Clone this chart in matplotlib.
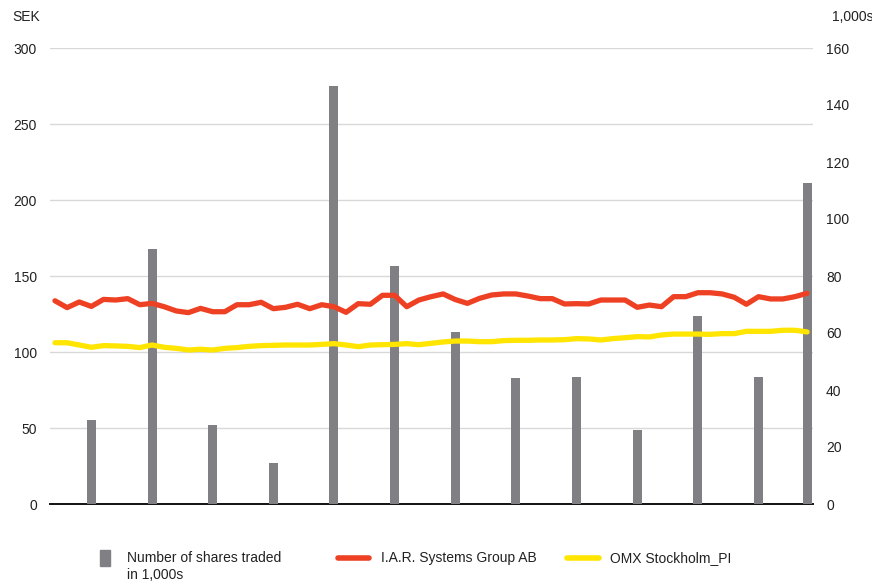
import matplotlib
matplotlib.use("Agg")
import matplotlib.pyplot as plt
from matplotlib.lines import Line2D
from matplotlib.patches import Rectangle
import numpy as np

# share price, SEK (one sample per period)
IAR = [133.7, 129.2, 132.9, 130.0, 134.6, 134.2, 135.1, 131.1, 132.0, 129.8,
       127.0, 125.9, 128.7, 126.5, 126.5, 131.1, 131.1, 132.7, 128.5, 129.4,
       131.4, 128.5, 131.1, 129.8, 126.1, 131.8, 131.4, 137.3, 137.3, 129.8,
       134.2, 136.4, 138.2, 134.5, 132.0, 135.3, 137.5, 138.2, 138.2, 136.8,
       135.1, 135.1, 131.6, 131.8, 131.6, 134.2, 134.2, 134.2, 129.4, 130.9,
       129.8, 136.4, 136.4, 139.0, 139.0, 138.2, 136.0, 131.4, 136.4, 134.9,
       134.9, 136.4, 138.6]
OMX = [106.1, 106.1, 104.6, 103.1, 104.2, 104.0, 103.7, 102.9, 104.6, 103.1,
       102.4, 101.3, 101.8, 101.3, 102.4, 102.9, 103.7, 104.2, 104.4, 104.6,
       104.6, 104.6, 105.0, 105.5, 104.6, 103.5, 104.6, 104.8, 105.0, 105.5,
       104.8, 105.7, 106.6, 107.2, 107.2, 106.8, 106.8, 107.5, 107.7, 107.7,
       107.9, 107.9, 108.1, 108.8, 108.6, 107.9, 108.8, 109.4, 110.1, 109.9,
       111.2, 111.8, 111.8, 111.8, 111.6, 112.1, 112.1, 113.6, 113.6, 113.6,
       114.3, 114.3, 113.2]

# traded volume, thousands of shares, at sample index VOL_IDX
VOL_IDX = [3, 8, 13, 18, 23, 28, 33, 38, 43, 48, 53, 58, 62]
VOLUME = [29.5, 89.5, 27.8, 14.5, 146.7, 83.5, 60.4, 44.2, 44.6, 26.0, 66.0, 44.6, 112.6]

SEK_TICKS = [0, 50, 100, 150, 200, 250, 300]
VOL_TICKS = [0, 20, 40, 60, 80, 100, 120, 140, 160]

RED = "#ee4124"
YELLOW = "#ffe500"
GREY = "#808084"
GRID = "#d9d9d9"
INK = "#222222"

plt.rcParams["font.family"] = ["Liberation Sans", "DejaVu Sans"]

W, H = 872, 581
fig = plt.figure(figsize=(W / 100, H / 100), dpi=100)
rect = [50 / W, 77 / H, 763 / W, 456 / H]

x = np.arange(len(IAR))
xlim = (-0.41, 62.49)

# grid + SEK labels on the bottom axes
ax = fig.add_axes(rect)
ax.set_xlim(*xlim)
ax.set_ylim(0, 300)
ax.set_yticks(SEK_TICKS)
ax.set_xticks([])
ax.grid(axis="y", color=GRID, lw=1)
ax.set_axisbelow(True)
ax.tick_params(axis="y", length=0, pad=9.4, labelsize=10, labelcolor=INK)
for s in ["top", "right", "left"]:
    ax.spines[s].set_visible(False)
ax.spines["bottom"].set_color("#111111")
ax.spines["bottom"].set_linewidth(1.4)
ax.spines["bottom"].set_zorder(5)

# volume bars on the right scale
axb = ax.twinx()
axb.set_xlim(*xlim)
axb.set_ylim(0, 160)
axb.set_yticks(VOL_TICKS)
axb.bar(VOL_IDX, VOLUME, width=0.74, color=GREY, zorder=2)
axb.tick_params(axis="y", length=0, pad=9.4, labelsize=10, labelcolor=INK)
for s in axb.spines.values():
    s.set_visible(False)

# price lines on top
axl = ax.twinx()
axl.set_xlim(*xlim)
axl.set_ylim(0, 300)
axl.set_yticks([])
for s in axl.spines.values():
    s.set_visible(False)
axl.plot(x, OMX, color=YELLOW, lw=3.8, solid_capstyle="round", solid_joinstyle="round")
axl.plot(x, IAR, color=RED, lw=3.8, solid_capstyle="round", solid_joinstyle="round")

fig.text(12 / W, 1 - 17 / H, "SEK", fontsize=10, va="center", color=INK)
fig.text(832 / W, 1 - 17 / H, "1,000s", fontsize=10, va="center", color=INK)

# legend row
ly = 1 - 558 / H
fig.add_artist(Rectangle((100 / W, 1 - 566 / H), 10 / W, 16 / H,
                         transform=fig.transFigure, color=GREY))
fig.text(127 / W, 1 - 551 / H, "Number of shares traded\nin 1,000s", fontsize=10,
         va="top", ha="left", linespacing=1.3, color=INK)
fig.add_artist(Line2D([338 / W, 369 / W], [ly, ly], transform=fig.transFigure,
                      color=RED, lw=4, solid_capstyle="round"))
fig.text(381 / W, ly, "I.A.R. Systems Group AB", fontsize=10, va="center", color=INK)
fig.add_artist(Line2D([567 / W, 599 / W], [ly, ly], transform=fig.transFigure,
                      color=YELLOW, lw=4, solid_capstyle="round"))
fig.text(610 / W, ly, "OMX Stockholm_PI", fontsize=10, va="center", color=INK)

fig.savefig("out.png", dpi=100)
